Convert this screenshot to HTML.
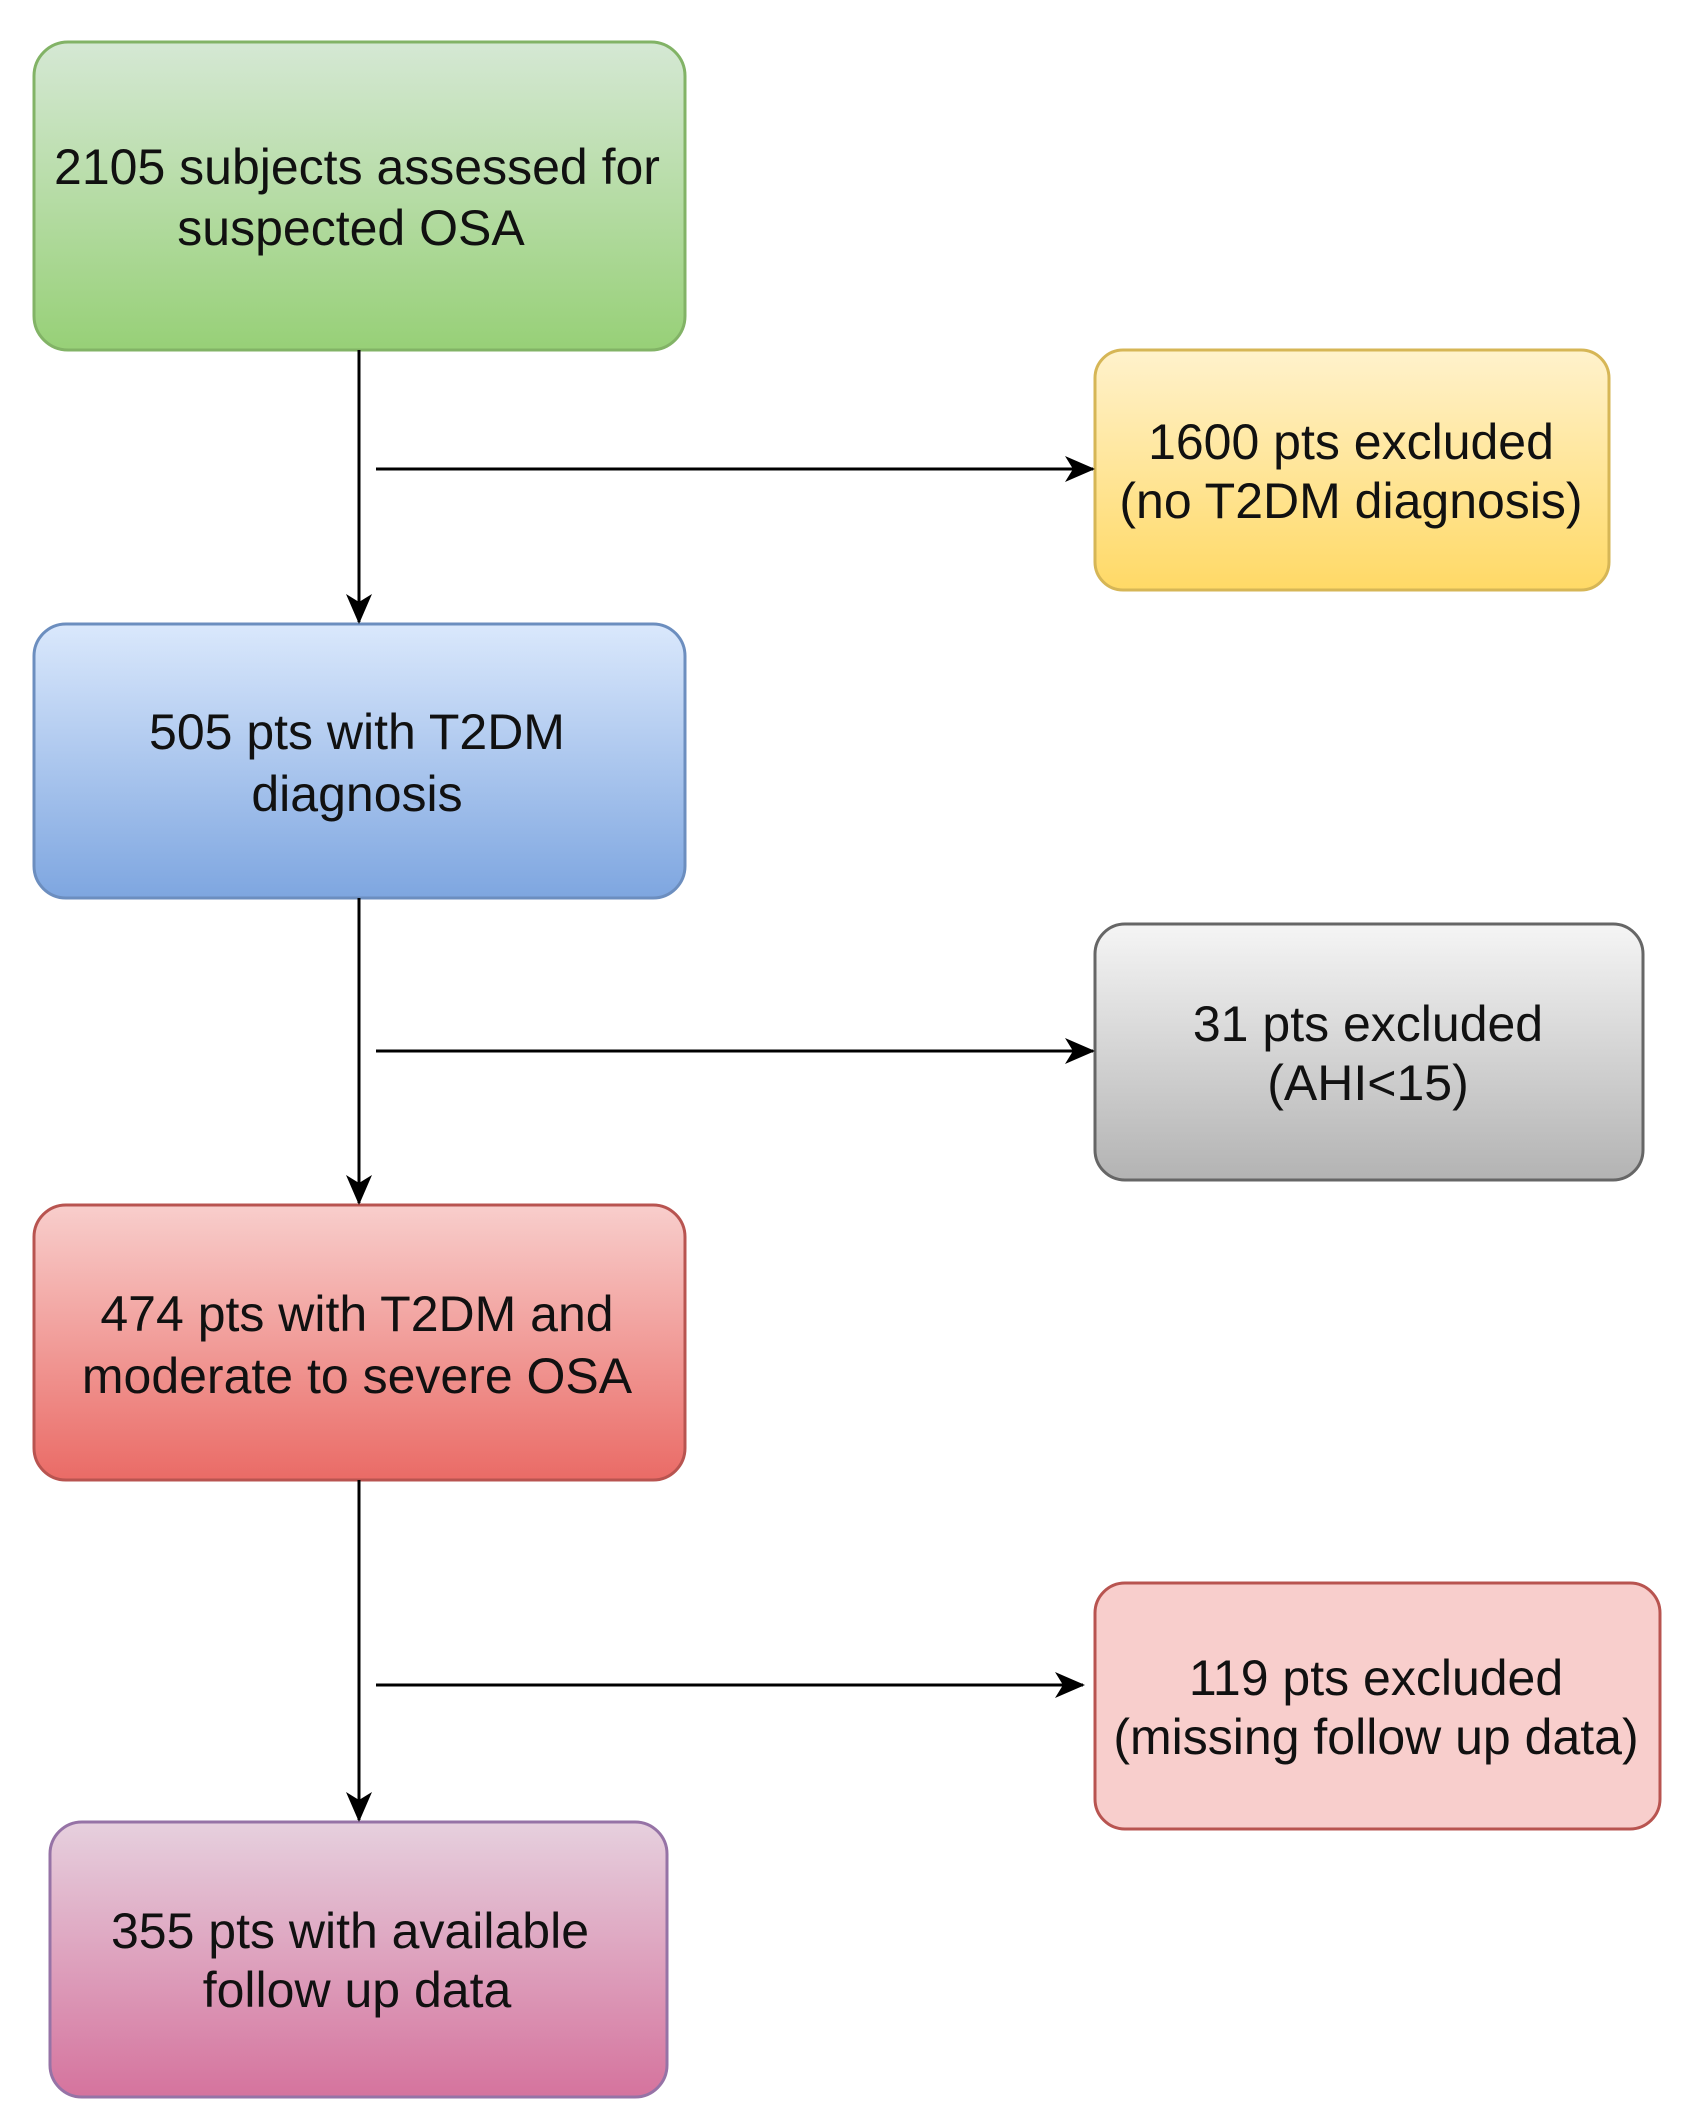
<!DOCTYPE html>
<html><head><meta charset="utf-8"><style>
html,body{margin:0;padding:0;background:#fff;}
svg{display:block;}
text{font-family:"Liberation Sans",Arial,sans-serif;font-size:50px;fill:#111;text-anchor:middle;}
</style></head><body>
<svg width="1691" height="2125" viewBox="0 0 1691 2125">
<defs>
<linearGradient id="g" x1="0" y1="0" x2="0" y2="1"><stop offset="0" stop-color="#d5e8d4"/><stop offset="1" stop-color="#97d077"/></linearGradient>
<linearGradient id="y" x1="0" y1="0" x2="0" y2="1"><stop offset="0" stop-color="#fff2cc"/><stop offset="1" stop-color="#ffd966"/></linearGradient>
<linearGradient id="b" x1="0" y1="0" x2="0" y2="1"><stop offset="0" stop-color="#dae8fc"/><stop offset="1" stop-color="#7ea6e0"/></linearGradient>
<linearGradient id="gr" x1="0" y1="0" x2="0" y2="1"><stop offset="0" stop-color="#f5f5f5"/><stop offset="1" stop-color="#b3b3b3"/></linearGradient>
<linearGradient id="r" x1="0" y1="0" x2="0" y2="1"><stop offset="0" stop-color="#f8cecc"/><stop offset="1" stop-color="#ea6b66"/></linearGradient>
<linearGradient id="p" x1="0" y1="0" x2="0" y2="1"><stop offset="0" stop-color="#e6d0de"/><stop offset="1" stop-color="#d5739d"/></linearGradient>
<marker id="a" markerWidth="30" markerHeight="26" refX="28" refY="13" orient="auto" markerUnits="userSpaceOnUse" viewBox="0 0 30 26"><path d="M0,0 L30,13 L0,26 L8,13 Z" fill="#000"/></marker>
</defs>
<g stroke-width="3">
<rect x="34" y="42" width="651" height="308" rx="34" fill="url(#g)" stroke="#82b366"/>
<rect x="1095" y="350" width="514" height="240" rx="28" fill="url(#y)" stroke="#d6b656"/>
<rect x="34" y="624" width="651" height="274" rx="32" fill="url(#b)" stroke="#6c8ebf"/>
<rect x="1095" y="924" width="548" height="256" rx="30" fill="url(#gr)" stroke="#666"/>
<rect x="34" y="1205" width="651" height="275" rx="32" fill="url(#r)" stroke="#b85450"/>
<rect x="1095" y="1583" width="565" height="246" rx="30" fill="#f8cecc" stroke="#b85450"/>
<rect x="50" y="1822" width="617" height="275" rx="32" fill="url(#p)" stroke="#9673a6"/>
</g>
<g stroke="#000" stroke-width="3" fill="none">
<line x1="359" y1="350" x2="359" y2="622" marker-end="url(#a)"/>
<line x1="359" y1="898" x2="359" y2="1203" marker-end="url(#a)"/>
<line x1="359" y1="1480" x2="359" y2="1820" marker-end="url(#a)"/>
<line x1="376" y1="469" x2="1093" y2="469" marker-end="url(#a)"/>
<line x1="376" y1="1051" x2="1093" y2="1051" marker-end="url(#a)"/>
<line x1="376" y1="1685" x2="1083" y2="1685" marker-end="url(#a)"/>
</g>
<text x="357" y="184">2105 subjects assessed for</text>
<text x="351" y="245">suspected OSA</text>
<text x="1351" y="459">1600 pts excluded</text>
<text x="1351" y="518">(no T2DM diagnosis)</text>
<text x="357" y="749">505 pts with T2DM</text>
<text x="357" y="811">diagnosis</text>
<text x="1368" y="1041">31 pts excluded</text>
<text x="1368" y="1100">(AHI&lt;15)</text>
<text x="357" y="1331">474 pts with T2DM and</text>
<text x="357" y="1393">moderate to severe OSA</text>
<text x="1376" y="1695">119 pts excluded</text>
<text x="1376" y="1754">(missing follow up data)</text>
<text x="350" y="1948">355 pts with available</text>
<text x="357" y="2007">follow up data</text>
</svg>
</body></html>
